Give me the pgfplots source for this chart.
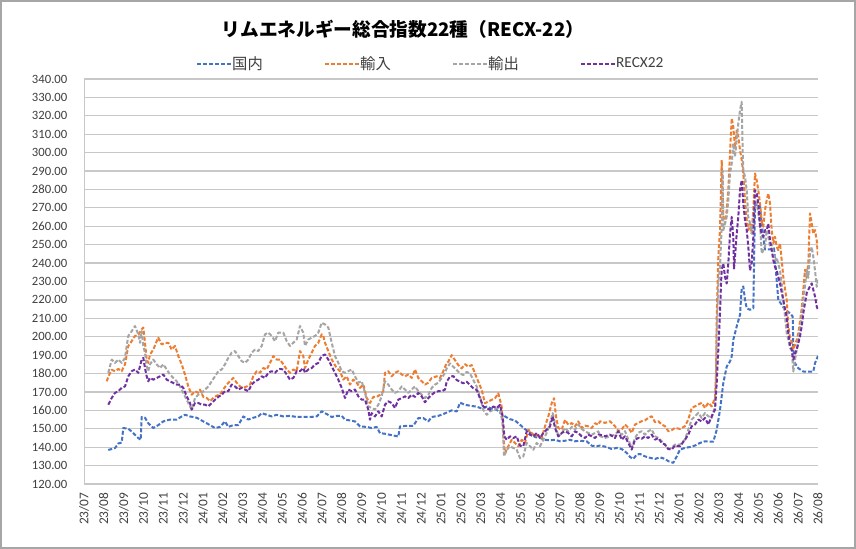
\documentclass[border=0pt]{standalone}
\usepackage{fontspec}
\setmainfont{Carlito}
\newfontfamily\jp{Noto Sans CJK JP}
\usepackage{pgfplots}
\pgfplotsset{compat=1.18}
\definecolor{c1}{HTML}{4472C4}
\definecolor{c2}{HTML}{ED7D31}
\definecolor{c3}{HTML}{A5A5A5}
\definecolor{c4}{HTML}{7030A0}
\definecolor{gridc}{HTML}{C8C8C8}
\definecolor{txt}{HTML}{404040}
\definecolor{framec}{HTML}{A6A6A6}
\begin{document}
\begin{tikzpicture}
\useasboundingbox (0,0) rectangle (642pt,411.75pt);
\fill[white] (0,0) rectangle (642pt,411.75pt);
\draw[framec, line width=1.5pt] (0.75pt,0.75pt) rectangle (641.25pt,411pt);
\node[font=\jp\bfseries\fontsize{14}{17}\selectfont, text=black] at (302.25pt,390pt) {リムエネルギー総合指数22種（RECX-22）};
\begin{axis}[
 at={(63pt,48.75pt)}, anchor=south west,
 width=550.5pt, height=303.75pt, scale only axis,
 xmin=84, xmax=818, ymin=120, ymax=340,
 ytick={120,130,...,340},
 xtick={84,103.84,123.68,143.51,163.35,183.19,203.03,222.86,242.70,262.54,282.38,302.22,322.05,341.89,361.73,381.57,401.41,421.24,441.08,460.92,480.76,500.59,520.43,540.27,560.11,579.95,599.78,619.62,639.46,659.30,679.14,698.97,718.81,738.65,758.49,778.32,798.16,818},
 xticklabels={23/07,23/08,23/09,23/10,23/11,23/12,24/01,24/02,24/03,24/04,24/05,24/06,24/07,24/08,24/09,24/10,24/11,24/12,25/01,25/02,25/03,25/04,25/05,25/06,25/07,25/08,25/09,25/10,25/11,25/12,26/01,26/02,26/03,26/04,26/05,26/06,26/07,26/08},
 axis x line=bottom, axis y line=left,
 x axis line style={draw=gridc, line width=1.2pt, -},
 y axis line style={draw=gridc, line width=0.75pt, -},
 ymajorgrids, grid style={draw=gridc, line width=0.9pt},
 major tick length=0pt,
 /pgf/number format/assume math mode=true,
 yticklabel={\pgfmathprintnumber[fixed,fixed zerofill,precision=2]{\tick}},
 yticklabel style={font=\fontsize{9.5}{11}\selectfont, text=txt},
 yticklabel shift=9pt,
 xticklabel style={font=\fontsize{10}{12}\selectfont, text=txt, rotate=90, anchor=east},
 xticklabel shift=3pt,
 legend style={at={(0.147,1.037)}, anchor=west, draw=none, fill=none, legend columns=4,
   font=\fontsize{11.5}{13}\selectfont, text=txt, nodes={inner sep=0pt, outer sep=0pt},
   /tikz/every even column/.append style={column sep=3pt}},
 legend cell align=left,
 legend image code/.code={\draw[#1] (0pt,0pt) -- (25.5pt,0pt);},
 every axis plot/.append style={line width=1.5pt, dash pattern=on 3pt off 1.5pt, line join=round},
]
\addplot[c1] coordinates {(108.3,138.5)(115,139.5)(118.3,142)(121.7,142.5)(123.3,150.4)(128.3,150)(131.7,148.5)(135,146.7)(138.3,145)(140.7,144)(141.7,156.4)(145,156)(148.3,153)(153.3,150.4)(158.3,152)(163.3,154)(170,155)(176.7,155)(181.7,156.7)(185,157.6)(190,156.7)(196.7,156)(203.3,154)(210,152)(215,150.4)(220,151)(225,154)(228.3,151)(233.3,152)(238.3,152)(243.3,156.7)(248.3,155)(253.3,156)(258.3,156.7)(261.7,158.5)(266.7,157.6)(271.7,156.7)(276.7,157.6)(283.3,156.7)(290,157)(296.7,156.4)(303.3,156.4)(310,156.4)(316.7,156.7)(321.7,159.5)(326.7,158)(331.7,156.4)(336.7,157)(341.7,157)(345,155)(350,154.5)(355,154)(360,151.3)(366.7,151)(371.7,150.4)(376.7,151)(380,147.6)(385,147.3)(390,146.7)(398.3,145.8)(400,151.3)(406.7,151.6)(413.3,151.6)(418.3,155.8)(423.3,155.8)(428.3,154)(431.7,156.4)(438.3,157)(443.3,158)(451.7,160)(456.7,159.4)(460,164.2)(465,163)(471.7,162.4)(476.7,162)(481.7,161)(486.7,162)(491.7,161)(496.7,160.3)(501.7,158)(505,156.7)(510,155.2)(515,154.5)(520,152.2)(525,149.8)(530,148)(535,145.5)(540,145)(545,144)(550,143.7)(555,144)(560,143.2)(565,143.5)(570,144)(575,143.2)(580,143.5)(586.7,143.2)(591.7,140.8)(596.7,140.5)(600,140.9)(606.7,140.1)(611.7,139)(616.7,139.6)(621.7,139)(626.7,136.9)(630,134.7)(633.3,133.6)(636.7,136)(640,136.3)(645,135)(650,134.2)(655,133.6)(660,134.5)(665,133.6)(668.3,132.4)(673.3,131.5)(676.7,135)(680,138.7)(685,139.6)(690,140.1)(695,140.9)(700,142.3)(705,143.2)(710,143)(713.3,143)(716.7,149.4)(720,160.3)(723.3,174.8)(726.7,183.8)(730,186.6)(731.7,189.3)(733.3,198.3)(736.7,205.6)(740,211.9)(741.7,226.4)(743.3,227.3)(745,220.1)(746.7,215.5)(750,214.6)(753.3,215.5)(755,271.5)(758.3,272)(760,270.6)(761.7,261.5)(763.3,254.3)(765,247.4)(771.7,247.4)(774,248)(778.3,220)(781.7,217.4)(785,214.6)(790,212.8)(792.7,211)(793.3,192.9)(795,185.6)(798.3,182.9)(803.3,181.1)(813.3,181.1)(815,185.6)(818,189.6)};
\addlegendentry{\makebox[66pt][l]{\jp 国内}}
\addplot[c2] coordinates {(106.7,175.8)(109.3,179.5)(111.7,182)(115,181.3)(118.3,182.5)(121.7,181.3)(125,185)(128.3,195)(131.7,197.6)(135,200.4)(138.3,201)(141.7,204)(143.3,205)(145,196.7)(146.7,187.6)(148.3,185.8)(150,190.4)(153.3,193)(156.7,197.6)(158.3,199.5)(161.7,195.8)(165,196.7)(168.3,196.7)(171.7,193)(175,195)(178.3,189.5)(181.7,185)(185,179.5)(188.3,173)(191.7,168.5)(195,170.4)(198.3,169.5)(200,171.3)(203.3,167.3)(206.7,166.7)(210,165)(213.3,166.7)(216.7,168)(220,168.5)(223.3,171.3)(226.7,174)(230,175.8)(233.3,177.6)(236.7,175)(240,173)(243.3,172.2)(246.7,173)(250,174)(253.3,178.5)(256.7,181.3)(260,180.4)(263.3,183)(266.7,182.2)(270,185.8)(273.3,189.5)(276.7,187.6)(280,187.6)(283.3,185)(286.7,182.2)(290,180.4)(293.3,182.2)(296.7,181.3)(300,192.2)(303.3,189.5)(305,183)(308.3,187.6)(311.7,191.3)(315,195)(318.3,196.7)(321.7,201.3)(323.3,200.4)(325,196.7)(328.3,192.2)(331.7,187.6)(336.7,183)(340,181.3)(343.3,176.7)(346.7,178.5)(350,174)(353.3,176.7)(356.7,175)(360,172.2)(363.3,174)(366.7,166.7)(370,164)(373.3,167.3)(376.7,167.3)(380,168.5)(383.3,170.4)(385,180.4)(388.3,181.3)(391.7,178.5)(395,180.4)(398.3,181.3)(401.7,179.5)(405,178.5)(408.3,179.5)(411.7,177.6)(415,182.2)(418.3,177.6)(421.7,175.8)(425,174)(428.3,175)(431.7,177.6)(436.7,178.5)(440,177.6)(443.3,181.3)(446.7,185.8)(448.3,186.4)(451.7,190)(455,187.3)(458.3,184.6)(461.7,182.8)(465,185.1)(468.3,183.7)(471.7,184.6)(475,180)(478.3,175.6)(481.7,171.1)(485,163.9)(488.3,164.8)(491.7,165.7)(495,166.6)(498.3,169.3)(501.7,162.1)(503.3,145.9)(505,136.8)(508.3,140.5)(511.7,144)(515,142.3)(518.3,140.5)(521.7,144)(525,142.3)(528.3,149.5)(531.7,147.7)(535,145.9)(538.3,146.8)(541.7,145)(545,151.3)(548.3,156.7)(551.7,163.9)(554,166.6)(556,156.7)(558.3,150.4)(561.7,149.5)(565,154.9)(568.3,152.2)(571.7,153.1)(575,151.3)(578.3,154)(581.7,150.4)(585,151.7)(588.3,151.3)(591.7,150.4)(595,153)(598.3,152.2)(600,154.1)(605,153.2)(610,154.1)(615,151.4)(618.3,148.7)(621.7,149.6)(625,152.3)(628.3,150.5)(631.7,147.8)(635,152.3)(638.3,153.2)(641.7,154.1)(645,154.6)(648.3,155.9)(651.7,156.8)(655,153.6)(658.3,154.1)(661.7,152.3)(665,151.4)(668.3,148.7)(671.7,149.2)(675,150.5)(680,149.9)(685,151.4)(688.3,155)(691.7,161.3)(695,162.2)(698.3,163.2)(701.7,164.1)(705,161.3)(708.3,164.1)(711.7,162.2)(715,166.8)(716,178.4)(716.7,211)(718.3,243.4)(720,257.9)(721.7,296)(723.3,265)(725,261.5)(726.7,268.8)(728.3,279.6)(730,299.6)(731.7,318.6)(733.3,314)(735,303)(736.7,312)(738.3,308.6)(740,301.4)(741.7,296)(743.3,288.7)(745,274.2)(746.7,263.3)(748.3,257.9)(750,261.5)(751.7,256)(753.3,268.8)(755,288.7)(756.7,285)(758.3,279.6)(760,272.4)(761.7,262.4)(763.3,259.7)(765,268.8)(766.7,274.2)(768.3,277.8)(770,272.4)(771.7,257.9)(773.3,250.7)(775,254.3)(776.7,248.8)(778.3,247)(780,250.7)(781.7,241.6)(783.3,232.5)(785,226)(786.7,220)(788.3,205.6)(790,199.3)(791.7,197.4)(793.3,192.9)(795,195.6)(796.7,198.3)(798.3,202)(800,208.3)(801.7,215.5)(803.3,225.5)(805,236.4)(806.7,232)(808.3,240)(810,267)(811.7,261.5)(813.3,256)(815,257.9)(816.7,252.5)(818,243.4)};
\addlegendentry{\makebox[66pt][l]{\jp 輸入}}
\addplot[c3] coordinates {(108.3,180.4)(110,184)(111.7,187.6)(115,185.8)(118.3,187.6)(121.7,185.8)(125,188.5)(126.7,195)(128.3,200.4)(131.7,203)(135,205.8)(138.3,201.3)(140,196.7)(141.7,203)(143.3,195)(145,191.3)(146.7,184)(148.3,181.3)(150,185)(153.3,187.6)(156.7,185)(160,183)(163.3,185)(166.7,182.2)(170,179.5)(173.3,177.6)(176.7,175.8)(180,173)(183.3,169.5)(186.7,165.8)(190,162.2)(191.7,160.4)(195,166.7)(198.3,168.5)(201.7,169.5)(205,171.3)(208.3,173)(211.7,175.8)(215,178.5)(218.3,181.3)(221.7,182.2)(225,185)(228.3,188.5)(231.7,191.3)(235,192.2)(238.3,189.5)(241.7,186.7)(245,185.8)(248.3,187.6)(251.7,191.3)(255,193)(258.3,192.2)(261.7,195)(265,201.3)(268.3,202.2)(271.7,200.4)(275,197.6)(278.3,202.2)(283.3,202.2)(286.7,197.6)(290,195)(293.3,196.7)(296.7,198.5)(300,205.8)(303.3,202.2)(305,195)(308.3,198.5)(311.7,199.5)(315,200.4)(318.3,202.2)(321.7,207.6)(325,206.7)(328.3,205)(331.7,196.7)(335,189.5)(338.3,185.8)(341.7,181.3)(345,180.4)(348.3,181.3)(351.7,182.2)(355,178.5)(358.3,175)(361.7,175.8)(365,169.5)(368.3,162.2)(371.7,161.3)(375,160.4)(378.3,163)(381.7,167.6)(385,175.8)(388.3,174)(391.7,171.3)(395,169.5)(398.3,170.4)(401.7,173)(405,171.3)(408.3,169.5)(411.7,171.3)(415,173)(418.3,170.4)(421.7,168.5)(425,166.7)(428.3,168.5)(431.7,172.2)(435,174)(438.3,175)(441.7,177.6)(445,180.4)(446.7,182.8)(450,185.5)(453.3,183.7)(456.7,181.9)(460,180)(463.3,179.2)(466.7,180.9)(470,180)(473.3,176.5)(476.7,172.9)(480,167.5)(483.3,160.3)(486.7,157.6)(490,159.4)(493.3,160.3)(496.7,161.2)(500,160.3)(502.7,153)(504,135)(506.7,138.6)(510,140.5)(513.3,139.6)(516.7,138.6)(520,134.1)(523.3,135)(526.7,142.3)(530,140.5)(533.3,138.6)(536.7,142.3)(540,140.5)(543.3,144)(546.7,147.7)(550,153)(552.7,158.5)(555,153)(558.3,145.9)(561.7,147.7)(565,150.4)(568.3,148.6)(571.7,151)(575,149.5)(578.3,152.2)(581.7,149.9)(585,148.6)(588.3,147.7)(591.7,146.8)(595,147.7)(598.3,148.6)(600,146)(605,145)(610,146)(615,146.8)(618.3,148.7)(621.7,146.8)(625,148.7)(628.3,144.1)(631.7,139.6)(635,145)(638.3,147.8)(641.7,148.7)(645,146.8)(648.3,148.7)(651.7,149.6)(655,146)(658.3,145)(661.7,143.2)(665,141.4)(668.3,139)(671.7,139.6)(675,141.4)(680,141.4)(685,144.1)(688.3,149.6)(691.7,155)(695,156.8)(698.3,158.6)(701.7,155.9)(705,158.6)(708.3,156.8)(711.7,155.9)(715,162.2)(716,180)(716.7,202)(718.3,229)(720,238.2)(721.7,260)(722.7,290)(723.3,257.9)(725,261.5)(726.7,265)(728.3,274.2)(730,288.7)(731.7,294.1)(733.3,305)(735,297.8)(736.7,306.8)(738.3,315.9)(740,323.1)(741.7,327.6)(742.7,300)(743.3,290.5)(745,286.9)(746.7,279.6)(748.3,265)(750,261.5)(751.7,256)(753.3,265)(755,274.2)(756.7,272.4)(758.3,267)(760,261.5)(761.7,245.2)(763.3,247)(765,248.8)(766.7,257.9)(768.3,254.3)(770,248.8)(771.7,250.3)(773.3,244.9)(775,241.3)(776.7,243)(778.3,239.6)(780,236)(781.7,228.7)(783.3,220)(785,211)(786.7,202)(788.3,198.3)(790,193.8)(791.7,192.9)(793.3,181.1)(795,187.5)(796.7,192.9)(798.3,198.3)(800,203.8)(801.7,211)(803.3,220)(805,227.3)(806.7,236.4)(808.3,232)(810,245.2)(811.7,248.8)(813.3,243.4)(815,236)(816.7,227.1)(818,232)};
\addlegendentry{\makebox[66pt][l]{\jp 輸出}}
\addplot[c4] coordinates {(108.3,163.1)(111.7,166.7)(115,169.5)(118.3,170.4)(121.7,172.2)(125,173)(128.3,178.5)(131.7,181.3)(135,182.2)(138.3,180.4)(141.7,187.6)(143.3,188.5)(145,183)(146.7,178.5)(148.3,175.8)(150,177.6)(153.3,176.7)(156.7,177.6)(160,178.5)(163.3,179.5)(166.7,176.7)(170,175.8)(173.3,174.9)(176.7,174)(180,174)(183.3,172.2)(186.7,167.6)(190,164)(191.7,160.4)(195,164)(198.3,164)(201.7,163.1)(205,163.1)(208.3,162.2)(211.7,164)(215,165.8)(218.3,167.3)(221.7,168.5)(225,170.4)(228.3,170.4)(231.7,174)(235,173)(238.3,171.3)(241.7,172.2)(245,171.3)(248.3,170.4)(251.7,174)(255,175.8)(258.3,176.7)(261.7,178.5)(265,177.6)(268.3,180.4)(271.7,181.3)(275,180.4)(278.3,182.2)(280,182.5)(283.3,182.2)(286.7,179.5)(290,176.7)(293.3,177.6)(296.7,181.3)(300,181.3)(303.3,183)(305,180.4)(308.3,182.2)(311.7,183)(315,184.9)(318.3,185.8)(321.7,189.5)(325,190.4)(328.3,187.6)(331.7,183.9)(335,180.4)(338.3,176.7)(341.7,172.2)(345,166.7)(348.3,171.3)(351.7,170.4)(355,171.3)(358.3,167.6)(361.7,165.8)(365,165.8)(368.3,160.4)(370,154.9)(371.7,158.5)(375,156.7)(378.3,159.5)(381.7,156.7)(385,163.1)(388.3,164.9)(391.7,164)(395,161.3)(398.3,165.8)(401.7,166.7)(405,167.6)(408.3,166.7)(411.7,168.5)(415,167.3)(418.3,169.5)(421.7,167.6)(425,164.4)(428.3,166.7)(431.7,168.5)(435,169.9)(438.3,170.4)(441.7,170.4)(445,171.3)(446.7,175.6)(450,178.3)(453.3,178.6)(456.7,176.5)(460,175.6)(463.3,174.7)(466.7,175.6)(470,173.8)(473.3,172)(476.7,171.1)(480,166.6)(483.3,162.1)(486.7,161.2)(490,160.3)(493.3,162.1)(496.7,161.2)(500,163)(502.7,156.7)(504.3,145.9)(506.7,144)(510,145.9)(513.3,145)(516.7,145.9)(520,140.8)(523.3,140.5)(526.7,148.6)(530,146.8)(533.3,145.9)(536.7,147.7)(540,145)(543.3,147.7)(546.7,149.5)(550,151.3)(552.7,156.7)(555,150.4)(558.3,145.9)(561.7,147.7)(565,148.6)(568.3,147.7)(571.7,145.9)(575,148.6)(578.3,147.7)(581.7,145.9)(585,145)(588.3,146.8)(591.7,145.9)(595,145)(598.3,146.8)(600,146.8)(605,145.9)(610,146.8)(615,145)(618.3,148.7)(621.7,144.1)(625,145.9)(628.3,142.3)(631.7,138.7)(635,144.1)(638.3,145)(641.7,144.6)(645,145.9)(648.3,145)(651.7,146.8)(655,144.1)(658.3,145)(661.7,142.3)(665,141.4)(668.3,139)(671.7,138.7)(675,140.9)(680,140.5)(685,144.1)(688.3,146.8)(691.7,151.4)(695,152.3)(698.3,155)(701.7,154)(705,155.9)(708.3,152.3)(711.7,156.8)(715,160.4)(716.7,174.8)(718.3,192.9)(720,212.8)(721,229)(721.7,236.2)(723.3,239.8)(725,232.5)(726.7,228.9)(728.3,239.8)(730,256)(731.7,265.1)(733.3,254.3)(734,237)(735,243.4)(736.7,256)(738.3,265.1)(740,279.6)(741.7,285)(743.3,272.4)(745,263.3)(746.7,258)(748.3,248.8)(750,236)(751.7,240)(753.3,254)(755,279.6)(756.7,277.8)(758.3,272.4)(760,259.7)(761.7,256)(763.3,254.3)(765,257.9)(766.7,257.9)(768.3,261.5)(770,252.5)(771.7,247)(773.3,241.6)(775,238)(776.7,236)(778.3,232.5)(780,228.9)(781.7,224)(783.3,219.9)(785,215)(786.7,211)(788.3,202)(790,195.6)(791.7,192.9)(793.3,187.5)(795,191.1)(796.7,192.9)(798.3,196.5)(800,200.1)(801.7,205.6)(803.3,212.8)(805,218.3)(806.7,223.7)(808.3,225.5)(810,227.3)(811.7,229)(813.3,225.5)(815,221.9)(816.7,216.4)(818,214.6)};
\addlegendentry{RECX22}
\end{axis}
\end{tikzpicture}
\end{document}
